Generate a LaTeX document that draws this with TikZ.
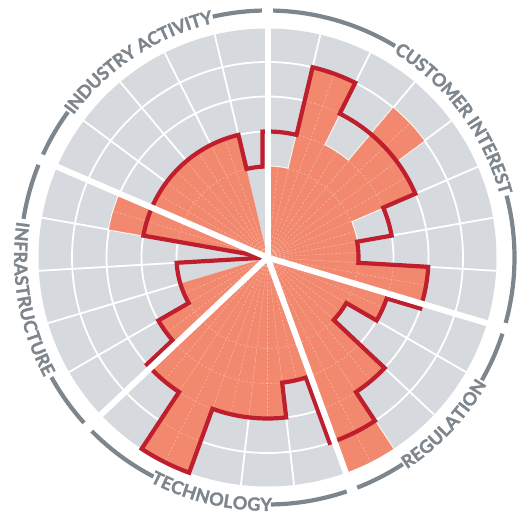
\documentclass[tikz,border=0pt]{standalone}
\usepackage{fontspec}
\newfontfamily\lblfont{Lato}[FakeBold=1.6]
\usetikzlibrary{decorations.text}
\definecolor{cellgray}{HTML}{D6DADE}
\definecolor{orangefill}{HTML}{F2886D}
\definecolor{redline}{HTML}{BF1E2D}
\definecolor{dashcol}{HTML}{F8B5A1}
\definecolor{lblgray}{HTML}{7E868D}
\newcommand\lblfmt{\lblfont\bfseries\fontsize{18}{20}\selectfont}
\tikzset{
  gridline/.style={white, line width=1.8pt},
  dashl/.style={dashcol, line width=0.6pt, dash pattern=on 2pt off 2pt},
  redoutline/.style={redline, line width=4.2pt, line join=miter, miter limit=4},
  gapline/.style={white, line width=6pt},
  lblarc/.style={lblgray, line width=4.2pt},
  lbltext/.style={decorate, decoration={text along path, text align=center, raise=-6.4pt, text={#1}}},
}
\begin{document}
\begin{tikzpicture}[x=1pt,y=1pt]
\useasboundingbox (-267.5,-256.5) rectangle (250.5,257.5);
\coordinate (C) at (0,0);
% gray base
\fill[cellgray] (C) circle (229);
% white grid
\foreach \r in {91,126,161,195.5} \draw[gridline] (C) circle (\r);
\foreach \i in {0,...,26} {
  \pgfmathsetmacro\angA{90-\i*13.333333}
  \draw[gridline] (\angA:91) -- (\angA:229);
}
% orange bars with faint dashed grid
\foreach \i/\v in {0/91,1/195.5,2/126,3/195.5,4/161,5/91,6/91,7/161,8/126,9/91,10/161,11/229,12/126,13/161,14/161,15/229,16/161,17/126,18/91,21/161,22/126,23/126,24/126,25/126} {
  \pgfmathsetmacro\angA{90-\i*13.333333}
  \pgfmathsetmacro\angB{\angA-13.333333}
  \pgfmathsetmacro\angM{\angA-6.666667}
  \fill[orangefill] (C) -- (\angA:\v) arc[start angle=\angA, end angle=\angB, radius=\v] -- cycle;
  \begin{scope}
    \clip (C) -- (\angA:\v) arc[start angle=\angA, end angle=\angB, radius=\v] -- cycle;
    \draw[dashl] (C) -- (\angA:240) (C) -- (\angM:240) (C) -- (\angB:240);
    \foreach \r in {91,126,161,195.5} \draw[dashl] (C) circle (\r);
  \end{scope}
}
% red outline (second series)
\draw[redoutline] (92.27:126) arc[start angle=92.27,end angle=76.667,radius=126]
 -- (76.667:195.5) arc[start angle=76.667,end angle=63.333,radius=195.5]
 -- (63.333:161) arc[start angle=63.333,end angle=23.333,radius=161]
 -- (23.333:126) arc[start angle=23.333,end angle=10,radius=126]
 -- (10:91) arc[start angle=10,end angle=-3.333,radius=91]
 -- (-3.333:161) arc[start angle=-3.333,end angle=-18.447,radius=161]
 -- (-18.94:126) arc[start angle=-18.94,end angle=-30,radius=126]
 -- (-30:91) arc[start angle=-30,end angle=-43.333,radius=91]
 -- (-43.333:161) arc[start angle=-43.333,end angle=-56.667,radius=161]
 -- (-56.667:195.5) arc[start angle=-56.667,end angle=-71.466,radius=195.5]
 -- (-72.274:126) arc[start angle=-72.274,end angle=-83.333,radius=126]
 -- (-83.333:161) arc[start angle=-83.333,end angle=-110,radius=161]
 -- (-110:229) arc[start angle=-110,end angle=-123.333,radius=229]
 -- (-123.333:161) arc[start angle=-123.333,end angle=-138.447,radius=161]
 -- (-138.94:126) arc[start angle=-138.94,end angle=-150,radius=126]
 -- (-150:91) arc[start angle=-150,end angle=-176.667,radius=91]
 -- (C)
 -- (-190:126) arc[start angle=-190,end angle=-256.667,radius=126]
 -- (-256.667:91) arc[start angle=-256.667,end angle=-266.85,radius=91]
 -- cycle;
% category gaps
\foreach \t in {90,-16.667,-70,-136.667,156.667} \draw[gapline] (C) -- (\t:236);
% label ring: industry activity
\draw[lblarc] (91.3:247) arc[start angle=91.3, end angle=102.8, radius=247];
\draw[lblarc] (143.9:247) arc[start angle=143.9, end angle=155.367, radius=247];
\path[lbltext={|\lblfmt\color{lblgray}|INDUSTRY ACTIVITY}] (156.667:247) arc[start angle=156.667, end angle=90, radius=247];
% customer interest
\draw[lblarc] (-15.367:247) arc[start angle=-15.367, end angle=14.5, radius=247];
\draw[lblarc] (58.9:247) arc[start angle=58.9, end angle=88.7, radius=247];
\path[lbltext={|\lblfmt\color{lblgray}|CUSTOMER INTEREST}] (90:247) arc[start angle=90, end angle=-16.667, radius=247];
% regulation
\draw[lblarc] (-68.7:247) arc[start angle=-68.7, end angle=-56.8, radius=247];
\draw[lblarc] (-29.8:247) arc[start angle=-29.8, end angle=-17.967, radius=247];
\path[lbltext={|\lblfmt\color{lblgray}|REGULATION}] (-70:247) arc[start angle=-70, end angle=-16.667, radius=247];
% technology
\draw[lblarc] (-135.367:247) arc[start angle=-135.367, end angle=-117.5, radius=247];
\draw[lblarc] (-89.2:247) arc[start angle=-89.2, end angle=-71.3, radius=247];
\path[lbltext={|\lblfmt\color{lblgray}|TECHNOLOGY}] (-136.667:247) arc[start angle=-136.667, end angle=-70, radius=247];
% infrastructure
\draw[lblarc] (157.967:247) arc[start angle=157.967, end angle=171, radius=247];
\draw[lblarc] (209:247) arc[start angle=209, end angle=222.033, radius=247];
\path[lbltext={|\lblfmt\color{lblgray}|INFRASTRUCTURE}] (156.667:247) arc[start angle=156.667, end angle=223.333, radius=247];
\end{tikzpicture}
\end{document}
